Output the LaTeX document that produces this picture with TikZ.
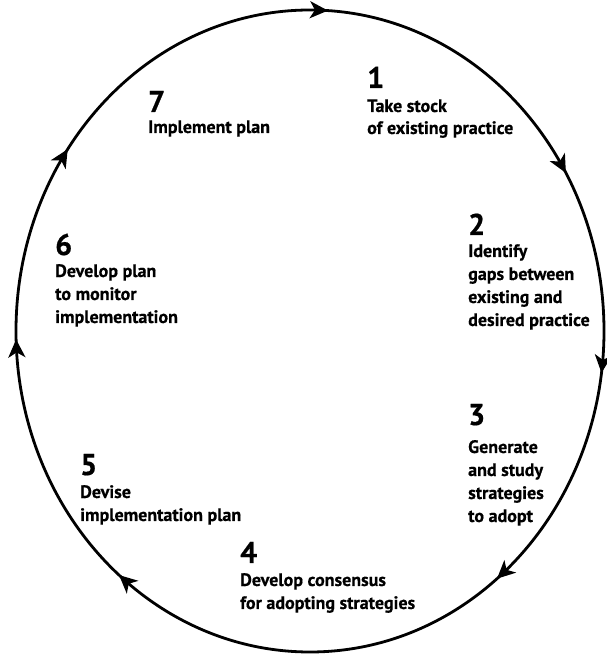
\documentclass[tikz,border=0pt]{standalone}
\usepackage{fontspec}
\setmainfont{PT Sans}[BoldFeatures={FakeBold=0.6}]
\usetikzlibrary{arrows.meta,calc}
\begin{document}
\begin{tikzpicture}[x=1pt,y=1pt,
  lbl/.style={anchor=base west, inner sep=0pt, font=\bfseries\fontsize{18}{20}\selectfont},
  num/.style={anchor=base west, inner sep=0pt, font=\bfseries\fontsize{30}{30}\selectfont},
  ring/.style={line width=2.8pt},
  tip/.style={line width=2.8pt, -{Stealth[length=18pt,width=17pt,inset=5pt]}}]
\useasboundingbox (0,0) rectangle (607,662);
\coordinate (c) at (310,331);
\draw[ring] (c) ellipse [x radius=294, y radius=321];
\foreach \t in {88,31,-6,-49,231,183,147} {
  \draw[tip] ($(c)+(\t+0.5:294 and 321)$) -- ($(c)+(\t-1.5:294 and 321)$);
}
% block 1
\node[num] (n1) at (367,574) {1};
\node[lbl] (t1a) at (367,550) {Take stock};
\node[lbl] (t1b) at (367,528) {of existing practice};
% block 7
\node[num] (n7) at (148,550) {7};
\node[lbl] (t7a) at (148,529) {Implement plan};
% block 2
\node[num] (n2) at (468,427) {2};
\node[lbl] (t2a) at (468,405) {Identify};
\node[lbl] (t2b) at (468,382) {gaps between};
\node[lbl] (t2c) at (468,359) {existing and};
\node[lbl] (t2d) at (468,336) {desired practice};
% block 6
\node[num] (n6) at (55,407) {6};
\node[lbl] (t6a) at (55,385) {Develop plan};
\node[lbl] (t6b) at (55,362) {to monitor};
\node[lbl] (t6c) at (55,339) {implementation};
% block 3
\node[num] (n3) at (468,237) {3};
\node[lbl] (t3a) at (468,209) {Generate};
\node[lbl] (t3b) at (468,186) {and study};
\node[lbl] (t3c) at (468,163) {strategies};
\node[lbl] (t3d) at (468,140) {to adopt};
% block 5
\node[num] (n5) at (80,187) {5};
\node[lbl] (t5a) at (80,164) {Devise};
\node[lbl] (t5b) at (80,141) {implementation plan};
% block 4
\node[num] (n4) at (240,99) {4};
\node[lbl] (t4a) at (240,76) {Develop consensus};
\node[lbl] (t4b) at (240,53) {for adopting strategies};
\end{tikzpicture}
\end{document}
